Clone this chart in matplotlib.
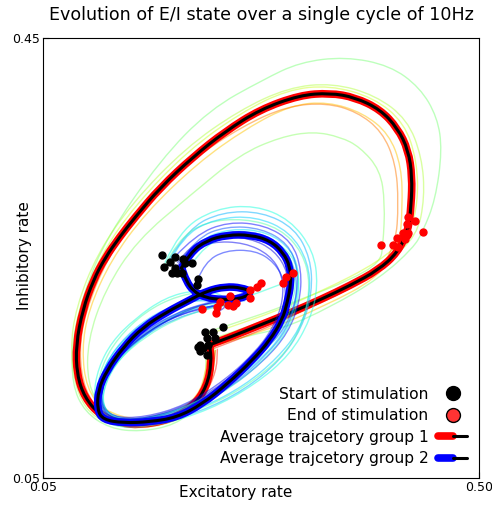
import matplotlib
matplotlib.use("Agg")
import matplotlib.pyplot as plt
from matplotlib.lines import Line2D
from matplotlib.legend_handler import HandlerTuple
from matplotlib.path import Path
from matplotlib.patches import PathPatch

# ---------------- data ----------------
# average trajectory group 1 (E rate, I rate)
avg1_x = [0.222,0.243,0.274,0.305,0.336,0.367,0.396,0.416,0.427,0.430,0.431,0.427,0.416,0.398,0.372,0.346,0.315,0.274,0.238,0.205,0.171,0.145,0.129,0.114,0.102,0.091,0.084,0.085,0.093,0.109,0.129,0.150,0.181,0.205,0.219,0.224,0.222]
avg1_y = [0.171,0.178,0.189,0.200,0.212,0.225,0.239,0.255,0.275,0.298,0.324,0.348,0.368,0.385,0.396,0.400,0.398,0.385,0.365,0.342,0.314,0.287,0.269,0.250,0.230,0.203,0.171,0.144,0.123,0.107,0.100,0.098,0.103,0.115,0.133,0.155,0.171]

# average trajectory group 2
avg2_x = [0.193,0.202,0.219,0.240,0.264,0.284,0.298,0.305,0.306,0.302,0.297,0.284,0.266,0.241,0.214,0.188,0.160,0.133,0.112,0.106,0.107,0.116,0.133,0.153,0.178,0.202,0.219,0.238,0.255,0.266,0.255,0.235,0.217,0.205,0.198,0.193]
avg2_y = [0.241,0.255,0.266,0.271,0.271,0.266,0.255,0.242,0.227,0.209,0.194,0.175,0.157,0.136,0.117,0.105,0.101,0.100,0.103,0.112,0.130,0.148,0.169,0.187,0.201,0.212,0.220,0.224,0.223,0.219,0.213,0.212,0.214,0.220,0.229,0.241]

# individual trajectories, group 1
g1_outer_x = [0.228,0.264,0.298,0.346,0.398,0.432,0.442,0.455,0.462,0.457,0.439,0.408,0.362,0.315,0.277,0.222,0.171,0.116,0.093,0.080,0.080,0.093,0.119,0.150,0.186,0.212,0.224,0.228]
g1_outer_y = [0.171,0.180,0.186,0.205,0.232,0.259,0.274,0.303,0.348,0.378,0.405,0.425,0.433,0.428,0.412,0.385,0.339,0.269,0.221,0.175,0.135,0.110,0.095,0.092,0.098,0.116,0.144,0.166]
g1_inner_x = [0.217,0.264,0.315,0.367,0.398,0.401,0.403,0.398,0.377,0.357,0.329,0.295,0.253,0.202,0.147,0.114,0.096,0.096,0.111,0.140,0.181,0.209,0.219,0.217]
g1_inner_y = [0.182,0.195,0.212,0.230,0.246,0.262,0.300,0.330,0.351,0.360,0.365,0.360,0.344,0.307,0.266,0.221,0.175,0.135,0.112,0.101,0.105,0.121,0.144,0.171]
g1_yg_x = [0.218,0.272,0.336,0.398,0.428,0.437,0.436,0.423,0.391,0.346,0.302,0.254,0.200,0.145,0.109,0.087,0.080,0.087,0.106,0.143,0.186,0.213,0.224,0.222]
g1_yg_y = [0.180,0.195,0.219,0.247,0.272,0.300,0.338,0.373,0.396,0.407,0.403,0.382,0.348,0.298,0.252,0.204,0.166,0.127,0.104,0.095,0.102,0.119,0.144,0.168]
g1_yg2_x = [0.230,0.280,0.342,0.405,0.436,0.444,0.441,0.426,0.393,0.349,0.303,0.252,0.197,0.142,0.106,0.084,0.078,0.085,0.104,0.142,0.186,0.214,0.226,0.227]
g1_yg2_y = [0.178,0.193,0.216,0.246,0.270,0.305,0.342,0.376,0.398,0.409,0.405,0.384,0.350,0.300,0.254,0.205,0.166,0.126,0.103,0.094,0.100,0.117,0.142,0.170]
g1_yel_x = [0.226,0.278,0.340,0.396,0.418,0.421,0.420,0.407,0.380,0.344,0.306,0.260,0.209,0.156,0.120,0.097,0.090,0.095,0.113,0.147,0.186,0.210,0.218,0.220]
g1_yel_y = [0.170,0.183,0.206,0.232,0.262,0.296,0.333,0.363,0.382,0.392,0.389,0.368,0.336,0.291,0.248,0.203,0.167,0.131,0.111,0.102,0.109,0.124,0.146,0.164]
g1_ora_x = [0.221,0.276,0.338,0.394,0.414,0.417,0.414,0.400,0.374,0.342,0.302,0.256,0.203,0.149,0.116,0.094,0.087,0.093,0.111,0.146,0.187,0.214,0.226,0.228]
g1_ora_y = [0.172,0.186,0.209,0.235,0.262,0.300,0.336,0.365,0.383,0.391,0.388,0.370,0.339,0.292,0.249,0.202,0.165,0.129,0.108,0.099,0.107,0.125,0.148,0.166]
g1_red_x = [0.227,0.276,0.337,0.398,0.428,0.433,0.431,0.417,0.386,0.345,0.303,0.257,0.204,0.148,0.112,0.089,0.082,0.088,0.107,0.144,0.188,0.216,0.229,0.230]
g1_red_y = [0.168,0.184,0.210,0.240,0.268,0.300,0.336,0.371,0.392,0.403,0.398,0.377,0.343,0.293,0.249,0.202,0.165,0.128,0.106,0.097,0.104,0.123,0.147,0.167]

# individual trajectories, group 2
g2_v1_x = [0.176,0.191,0.228,0.269,0.305,0.329,0.334,0.326,0.305,0.269,0.222,0.171,0.129,0.106,0.102,0.107,0.121,0.145,0.176,0.207,0.233,0.245]
g2_v1_y = [0.246,0.275,0.295,0.298,0.285,0.257,0.225,0.194,0.162,0.135,0.112,0.098,0.095,0.105,0.125,0.150,0.174,0.195,0.214,0.221,0.218,0.207]
g2_v2_x = [0.181,0.200,0.235,0.276,0.310,0.326,0.328,0.317,0.295,0.258,0.212,0.166,0.127,0.107,0.106,0.115,0.135,0.166,0.202,0.233,0.264]
g2_v2_y = [0.250,0.277,0.292,0.292,0.277,0.250,0.219,0.186,0.157,0.130,0.110,0.099,0.098,0.110,0.130,0.155,0.179,0.200,0.212,0.210,0.214]
g2_v3_x = [0.186,0.207,0.241,0.279,0.307,0.317,0.315,0.303,0.279,0.243,0.202,0.155,0.121,0.107,0.109,0.122,0.150,0.183,0.217,0.248,0.271]
g2_v3_y = [0.251,0.271,0.283,0.280,0.265,0.239,0.210,0.182,0.157,0.132,0.112,0.100,0.101,0.114,0.135,0.157,0.180,0.198,0.209,0.210,0.224]
g2_v4_x = [0.194,0.210,0.243,0.282,0.307,0.315,0.311,0.297,0.276,0.243,0.202,0.155,0.124,0.111,0.114,0.129,0.158,0.191,0.222,0.249,0.275]
g2_v4_y = [0.249,0.266,0.277,0.274,0.257,0.235,0.207,0.180,0.159,0.135,0.114,0.103,0.103,0.116,0.136,0.159,0.182,0.200,0.207,0.206,0.227]
g2_v5_x = [0.183,0.197,0.224,0.258,0.284,0.297,0.298,0.289,0.271,0.238,0.197,0.155,0.121,0.109,0.113,0.129,0.160,0.197,0.228,0.241,0.229]
g2_v5_y = [0.236,0.255,0.265,0.264,0.253,0.235,0.212,0.189,0.166,0.139,0.116,0.105,0.105,0.119,0.139,0.162,0.185,0.201,0.207,0.207,0.200]
g2_v6_x = [0.188,0.204,0.235,0.272,0.298,0.311,0.312,0.302,0.281,0.248,0.207,0.160,0.124,0.109,0.111,0.125,0.153,0.186,0.217,0.238,0.249]
g2_v6_y = [0.236,0.262,0.274,0.274,0.261,0.239,0.212,0.185,0.162,0.136,0.115,0.103,0.102,0.115,0.135,0.157,0.179,0.195,0.203,0.209,0.209]
g2_v7_x = [0.175,0.189,0.217,0.258,0.295,0.318,0.326,0.320,0.303,0.272,0.231,0.181,0.135,0.109,0.105,0.111,0.127,0.155,0.189,0.228,0.264]
g2_v7_y = [0.242,0.266,0.283,0.286,0.277,0.255,0.227,0.195,0.166,0.141,0.119,0.103,0.099,0.108,0.128,0.153,0.177,0.201,0.216,0.221,0.221]
g2_v8_x = [0.210,0.217,0.238,0.269,0.289,0.300,0.300,0.291,0.272,0.241,0.202,0.158,0.122,0.109,0.112,0.127,0.156,0.191,0.222,0.235,0.214]
g2_v8_y = [0.231,0.246,0.257,0.257,0.246,0.228,0.207,0.185,0.164,0.137,0.116,0.103,0.103,0.116,0.137,0.160,0.182,0.199,0.205,0.209,0.204]
g2_v9_x = [0.204,0.218,0.248,0.284,0.308,0.315,0.312,0.300,0.280,0.249,0.210,0.165,0.126,0.109,0.110,0.121,0.145,0.178,0.212,0.253,0.298]
g2_v9_y = [0.245,0.263,0.271,0.268,0.253,0.230,0.205,0.180,0.159,0.135,0.115,0.103,0.101,0.112,0.132,0.153,0.175,0.195,0.207,0.212,0.227]
g2_v10_x = [0.191,0.208,0.239,0.276,0.303,0.313,0.312,0.300,0.277,0.245,0.205,0.158,0.123,0.110,0.112,0.126,0.154,0.187,0.217,0.243,0.253]
g2_v10_y = [0.246,0.268,0.279,0.277,0.263,0.241,0.214,0.186,0.164,0.138,0.116,0.104,0.104,0.117,0.137,0.161,0.184,0.200,0.209,0.214,0.215]
g2_v11_x = [0.179,0.194,0.228,0.269,0.305,0.324,0.326,0.315,0.292,0.258,0.215,0.169,0.129,0.108,0.106,0.113,0.132,0.160,0.194,0.224,0.258]
g2_v11_y = [0.244,0.270,0.286,0.288,0.274,0.246,0.216,0.185,0.159,0.134,0.114,0.101,0.099,0.109,0.128,0.152,0.175,0.195,0.209,0.214,0.211]
g2_v12_x = [0.198,0.210,0.241,0.276,0.301,0.311,0.309,0.299,0.278,0.245,0.206,0.160,0.125,0.111,0.113,0.127,0.156,0.189,0.220,0.241,0.233]
g2_v12_y = [0.245,0.263,0.274,0.272,0.258,0.236,0.212,0.188,0.164,0.139,0.117,0.104,0.103,0.115,0.135,0.157,0.179,0.195,0.204,0.207,0.210]
g2_v13_x = [0.189,0.202,0.231,0.264,0.289,0.303,0.304,0.295,0.274,0.241,0.202,0.158,0.121,0.108,0.110,0.125,0.154,0.189,0.220,0.249,0.271]
g2_v13_y = [0.246,0.262,0.270,0.268,0.257,0.237,0.212,0.186,0.165,0.139,0.117,0.104,0.103,0.115,0.135,0.157,0.181,0.199,0.209,0.215,0.224]

# start / end of stimulation points
start1_x = [0.236,0.217,0.225,0.219,0.228,0.212,0.215,0.210,0.219,0.220,0.212]
start1_y = [0.187,0.183,0.183,0.177,0.177,0.171,0.168,0.169,0.162,0.171,0.165]
end1_x = [0.427,0.434,0.426,0.422,0.427,0.415,0.424,0.442,0.416,0.399,0.411,0.426]
end1_y = [0.287,0.284,0.281,0.273,0.273,0.268,0.267,0.274,0.260,0.262,0.262,0.271]
start2_x = [0.173,0.175,0.181,0.186,0.194,0.204,0.186,0.183,0.188,0.193,0.210,0.209,0.197]
start2_y = [0.253,0.242,0.246,0.251,0.249,0.245,0.241,0.236,0.236,0.236,0.231,0.225,0.245]
end2_x = [0.214,0.229,0.230,0.233,0.241,0.246,0.249,0.243,0.264,0.264,0.271,0.275,0.298,0.301,0.308]
end2_y = [0.204,0.200,0.205,0.210,0.207,0.206,0.209,0.215,0.221,0.214,0.224,0.227,0.227,0.233,0.236]

group1_lines = [(g1_outer_x, g1_outer_y, 0.50), (g1_inner_x, g1_inner_y, 0.52),
                (g1_yg_x, g1_yg_y, 0.60), (g1_yg2_x, g1_yg2_y, 0.57),
                (g1_yel_x, g1_yel_y, 0.70), (g1_ora_x, g1_ora_y, 0.78),
                (g1_red_x, g1_red_y, 0.88)]
group2_lines = [(g2_v1_x, g2_v1_y, 0.38), (g2_v2_x, g2_v2_y, 0.30),
                (g2_v3_x, g2_v3_y, 0.12), (g2_v4_x, g2_v4_y, 0.35),
                (g2_v5_x, g2_v5_y, 0.10), (g2_v6_x, g2_v6_y, 0.25),
                (g2_v7_x, g2_v7_y, 0.45), (g2_v8_x, g2_v8_y, 0.15),
                (g2_v9_x, g2_v9_y, 0.40), (g2_v10_x, g2_v10_y, 0.20),
                (g2_v11_x, g2_v11_y, 0.33), (g2_v12_x, g2_v12_y, 0.42),
                (g2_v13_x, g2_v13_y, 0.08)]


def smooth_path(xs, ys):
    """Quadratic-Bezier path through the trajectory samples (drawn by matplotlib)."""
    pts = list(zip(xs, ys))
    verts = [pts[0]]
    codes = [Path.MOVETO]
    for i in range(1, len(pts) - 1):
        mid = ((pts[i][0] + pts[i + 1][0]) / 2, (pts[i][1] + pts[i + 1][1]) / 2)
        verts += [pts[i], mid]
        codes += [Path.CURVE3, Path.CURVE3]
    verts.append(pts[-1])
    codes.append(Path.LINETO)
    return Path(verts, codes)


def draw(ax, xs, ys, **kw):
    ax.add_patch(PathPatch(smooth_path(xs, ys), fill=False, capstyle='round',
                           joinstyle='round', **kw))


# ---------------- figure ----------------
fig = plt.figure(figsize=(4.92, 5.08), dpi=100)
ax = fig.add_axes([0.0874, 0.0591, 0.8862, 0.8661])
cmap = plt.cm.jet

for xs, ys, c in group1_lines:
    draw(ax, xs, ys, edgecolor=cmap(c), lw=1.0, alpha=0.5, zorder=2)
draw(ax, avg1_x, avg1_y, edgecolor='red', lw=5.5, zorder=3)
draw(ax, avg1_x, avg1_y, edgecolor='black', lw=2.2, zorder=3)

for xs, ys, c in group2_lines:
    draw(ax, xs, ys, edgecolor=cmap(c), lw=1.0, alpha=0.5, zorder=4)
draw(ax, avg2_x, avg2_y, edgecolor='blue', lw=5.5, zorder=5)
draw(ax, avg2_x, avg2_y, edgecolor='black', lw=2.2, zorder=5)

ax.plot(start1_x, start1_y, 'o', color='black', ms=5, zorder=6)
ax.plot(start2_x, start2_y, 'o', color='black', ms=5, zorder=6)
ax.plot(end1_x, end1_y, 'o', color='red', ms=5, zorder=6)
ax.plot(end2_x, end2_y, 'o', color='red', ms=5, zorder=6)

ax.set_xlim(0.05, 0.50)
ax.set_ylim(0.05, 0.45)
ax.set_xticks([0.05, 0.50])
ax.set_yticks([0.05, 0.45])
ax.set_xticklabels(['0.05', '0.50'])
ax.set_yticklabels(['0.05', '0.45'])
ax.tick_params(direction='in', labelsize=9, length=4, pad=2)
ax.set_xlabel('Excitatory rate', fontsize=11)
ax.set_ylabel('Inhibitory rate', fontsize=11)
ax.xaxis.set_label_coords(0.443, -0.015)
ax.yaxis.set_label_coords(-0.025, 0.505)
ax.set_title('Evolution of E/I state over a single cycle of 10Hz', fontsize=12.6, pad=13)

h_start = Line2D([], [], marker='o', ls='', mfc='black', mec='black', ms=10)
h_end = Line2D([], [], marker='o', ls='', mfc='#ff3333', mec='black', ms=10)
h_a1 = (Line2D([], [], color='red', lw=5.5, solid_capstyle='round'),
        Line2D([], [], color='black', lw=2.2, solid_capstyle='round'))
h_a2 = (Line2D([], [], color='blue', lw=5.5, solid_capstyle='round'),
        Line2D([], [], color='black', lw=2.2, solid_capstyle='round'))
ax.legend([h_start, h_end, h_a1, h_a2],
          ['Start of stimulation', 'End of stimulation',
           'Average trajcetory group 1', 'Average trajcetory group 2'],
          handler_map={tuple: HandlerTuple(ndivide=None, pad=0)},
          loc='lower right', frameon=False, markerfirst=False, fontsize=11.2,
          handlelength=1.9, labelspacing=0.42, borderaxespad=0.35, handletextpad=0.6)

fig.savefig('out.png', dpi=100)
